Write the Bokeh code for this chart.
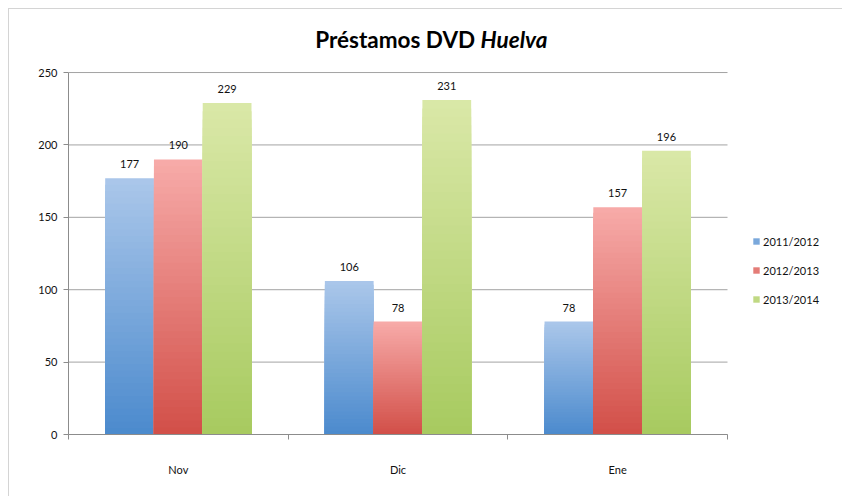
from bokeh.plotting import figure
from bokeh.models import ColumnDataSource, FixedTicker, Legend, LegendItem, Label, Range1d
from bokeh.core.properties import value
from bokeh.embed import file_html
from bokeh.resources import INLINE

categories = ["Nov", "Dic", "Ene"]
series_names = ["2011/2012", "2012/2013", "2013/2014"]
s2011 = [177, 106, 78]
s2012 = [190, 78, 157]
s2013 = [229, 231, 196]
y_ticks = [0, 50, 100, 150, 200, 250]

series_values = [s2011, s2012, s2013]
top_colors = ["#abc7ea", "#f7aba9", "#dae8a8"]
bottom_colors = ["#4b8acd", "#d24f48", "#a7ca5f"]

FONT = "Lato"
N = 40
BAR_W = 0.222
offsets = [-BAR_W, 0.0, BAR_W]
Y_TOP = 288.7   # headroom above the value axis (title area)
X_RIGHT = 3.528  # room at right of the category axis (legend area)
GRID = "#a3a3a3"
AXIS = "#8c8c8c"


def hex2rgb(h):
    h = h.lstrip("#")
    return tuple(int(h[i:i + 2], 16) for i in (0, 2, 4))


def mix(c0, c1, f):
    a, b = hex2rgb(c0), hex2rgb(c1)
    return "#%02x%02x%02x" % tuple(round(a[i] + (b[i] - a[i]) * f) for i in range(3))


ncat = len(categories)
p = figure(width=834, height=488, output_backend="svg", toolbar_location=None,
           x_range=Range1d(0, X_RIGHT), y_range=Range1d(0, Y_TOP),
           min_border_left=59, min_border_right=0, min_border_top=7, min_border_bottom=63)
p.styles = {"margin-left": "8px", "margin-top": "8px",
            "border-left": "1px solid #d4d4d4", "border-top": "1px solid #d4d4d4"}
p.outline_line_color = None
p.background_fill_color = "white"
p.border_fill_color = "white"

# gridlines limited to the category span
p.xgrid.visible = False
p.ygrid.visible = False
p.segment(x0=[0] * len(y_ticks), x1=[ncat] * len(y_ticks), y0=y_ticks, y1=y_ticks,
          line_color=GRID, line_width=1)

# axes
p.yaxis.ticker = FixedTicker(ticks=y_ticks)
p.yaxis.bounds = (y_ticks[0], y_ticks[-1])
p.yaxis.axis_line_color = AXIS
p.yaxis.major_tick_line_color = AXIS
p.yaxis.major_tick_in = 0
p.yaxis.major_tick_out = 5
p.yaxis.minor_tick_line_color = None
p.yaxis.major_label_standoff = 6
p.yaxis.major_label_text_font = FONT
p.yaxis.major_label_text_font_size = "11px"
p.yaxis.major_label_text_color = "#111111"

centers = [i + 0.5 for i in range(ncat)]
p.xaxis.ticker = FixedTicker(ticks=centers, minor_ticks=[i for i in range(ncat + 1)])
p.xaxis.bounds = (0, ncat)
p.xaxis.major_label_overrides = {c: lab for c, lab in zip(centers, categories)}
p.xaxis.major_tick_line_color = None
p.xaxis.minor_tick_line_color = AXIS
p.xaxis.minor_tick_in = 0
p.xaxis.minor_tick_out = 5
p.xaxis.axis_line_color = AXIS
p.xaxis.major_label_standoff = 22
p.xaxis.major_label_text_font = FONT
p.xaxis.major_label_text_font_size = "11px"
p.xaxis.major_label_text_color = "#111111"

legend_items = []
for si, vals in enumerate(series_values):
    left, right, top, colors = [], [], [], []
    for k in range(N):
        f = (N - k) / N
        col = mix(bottom_colors[si], top_colors[si], f - 0.5 / N)
        for ci, v in enumerate(vals):
            x = centers[ci] + offsets[si]
            left.append(x - BAR_W / 2)
            right.append(x + BAR_W / 2)
            top.append(v * f)
            colors.append(col)
    src = ColumnDataSource(dict(left=left, right=right, top=top, bottom=[0] * len(top), color=colors))
    r = p.quad(left="left", right="right", top="top", bottom="bottom", fill_color="color",
               line_color=None, source=src)
    legend_items.append(LegendItem(label=series_names[si], renderers=[r], index=(N // 2) * len(vals)))

    lab_src = ColumnDataSource(dict(x=[centers[ci] + offsets[si] for ci in range(len(vals))],
                                    y=vals, t=[str(v) for v in vals]))
    p.text(x="x", y="y", text="t", source=lab_src, text_align="center", text_baseline="bottom",
           y_offset=-10, text_font=value(FONT), text_font_size="11px", text_color="#111111")

legend = Legend(items=legend_items, location=(684, 128), orientation="vertical")
legend.border_line_color = None
legend.background_fill_alpha = 0
legend.padding = 0
legend.margin = 0
legend.spacing = 15
legend.glyph_width = 8
legend.glyph_height = 8
legend.label_height = 14
legend.label_standoff = 3
legend.label_text_font = FONT
legend.label_text_font_size = "11px"
legend.label_text_color = "#111111"
p.add_layout(legend, "center")

TITLE_X = 1.876
TITLE_Y = 273.0
t1 = Label(x=TITLE_X, y=TITLE_Y, text="Préstamos DVD ",
           text_align="right", text_baseline="alphabetic", text_font=FONT, text_font_style="bold",
           text_font_size="22.5px", text_color="#000000")
t2 = Label(x=TITLE_X, y=TITLE_Y, text="Huelva",
           text_align="left", text_baseline="alphabetic", text_font=FONT, text_font_style="bold italic",
           text_font_size="22.5px", text_color="#000000")
p.add_layout(t1)
p.add_layout(t2)

open("out.html", "w").write(file_html(p, INLINE))
